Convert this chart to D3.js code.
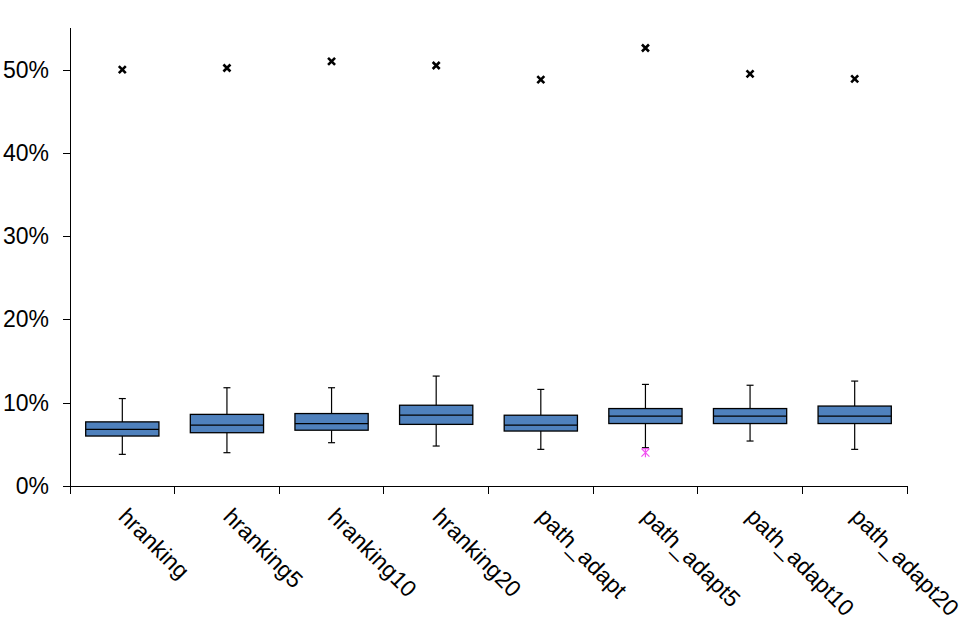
<!DOCTYPE html>
<meta charset="utf-8">
<style>
    body { margin: 0; background: #fff; }
    text { font-family: "Liberation Sans", Arial, sans-serif; font-size: 23px; fill: #000; }
    .axis path, .axis line { stroke: #000; stroke-width: 1px; shape-rendering: crispEdges; }
    .box { fill: #4f81bd; stroke: #000; stroke-width: 1.3px; }
    .whisker { stroke: #000; stroke-width: 1.2px; }
    .maxmark { stroke: #000; stroke-width: 2.6px; fill: none; }
    .outlier { stroke: #f050f0; stroke-width: 1.2px; fill: none; }
</style>
<body>
<script src="https://cdn.jsdelivr.net/npm/d3@7"></script>
<script>
    var categories = ["hranking", "hranking5", "hranking10", "hranking20",
        "path_adapt", "path_adapt5", "path_adapt10", "path_adapt20"];
    var whiskerLow  = [0.038, 0.040, 0.052, 0.048, 0.044, 0.046, 0.054, 0.044];
    var q1          = [0.060, 0.064, 0.067, 0.074, 0.066, 0.075, 0.075, 0.075];
    var median      = [0.068, 0.073, 0.075, 0.085, 0.073, 0.084, 0.084, 0.084];
    var q3          = [0.077, 0.086, 0.087, 0.097, 0.085, 0.093, 0.093, 0.096];
    var whiskerHigh = [0.105, 0.118, 0.118, 0.132, 0.116, 0.122, 0.121, 0.126];
    var maxVal      = [0.500, 0.502, 0.510, 0.505, 0.488, 0.526, 0.495, 0.489];
    var outlierCat  = ["path_adapt5"];
    var outlierVal  = [0.040];
    var yTicks      = [0, 0.1, 0.2, 0.3, 0.4, 0.5];

    var rows = categories.map(function(c, i) {
        return {cat: c, lo: whiskerLow[i], q1: q1[i], med: median[i], q3: q3[i], hi: whiskerHigh[i], max: maxVal[i]};
    });

    var svg = d3.select("body").append("svg").attr("width", 977).attr("height", 632);

    var x = d3.scaleBand().domain(categories).range([70, 907]).padding(0);
    var y = d3.scaleLinear().domain([0, 0.55]).range([486, 28]);

    // y axis
    var yAxis = svg.append("g").attr("class", "axis").attr("transform", "translate(70,0)")
        .call(d3.axisLeft(y).tickValues(yTicks).tickFormat(d3.format(".0%")).tickSize(7).tickSizeOuter(0).tickPadding(14));
    yAxis.select(".domain").attr("d", "M0," + y(0) + "V" + y(0.55));
    yAxis.selectAll("text").style("font-size", "23px").attr("fill", "#000");

    // x axis, ticks at band edges
    var xAxis = svg.append("g").attr("class", "axis").attr("transform", "translate(0," + y(0) + ")");
    xAxis.append("path").attr("class", "domain").attr("d", "M70,0H907");
    var edges = categories.map(function(c) { return x(c); }).concat([x.range()[1]]);
    xAxis.selectAll(".edge").data(edges).enter().append("line")
        .attr("x1", d => d).attr("x2", d => d).attr("y1", 0).attr("y2", 8);
    xAxis.selectAll(".lbl").data(categories).enter().append("text")
        .attr("transform", d => "translate(" + (x(d) + x.bandwidth() / 2 - 5) + ",32) rotate(45)")
        .attr("text-anchor", "start")
        .text(d => d);

    var bw = x.bandwidth() * 0.7;
    var cx = d => x(d.cat) + x.bandwidth() / 2;

    var g = svg.selectAll(".bp").data(rows).enter().append("g").attr("class", "bp");

    // whiskers
    g.append("line").attr("class", "whisker")
        .attr("x1", cx).attr("x2", cx).attr("y1", d => y(d.hi)).attr("y2", d => y(d.q3));
    g.append("line").attr("class", "whisker")
        .attr("x1", cx).attr("x2", cx).attr("y1", d => y(d.q1)).attr("y2", d => y(d.lo));
    g.append("line").attr("class", "whisker")
        .attr("x1", d => cx(d) - 3.5).attr("x2", d => cx(d) + 3.5).attr("y1", d => y(d.hi)).attr("y2", d => y(d.hi));
    g.append("line").attr("class", "whisker")
        .attr("x1", d => cx(d) - 3.5).attr("x2", d => cx(d) + 3.5).attr("y1", d => y(d.lo)).attr("y2", d => y(d.lo));

    // boxes
    g.append("rect").attr("class", "box")
        .attr("x", d => cx(d) - bw / 2).attr("width", bw)
        .attr("y", d => y(d.q3)).attr("height", d => y(d.q1) - y(d.q3));
    g.append("line").attr("class", "whisker").style("stroke-width", "1.3px")
        .attr("x1", d => cx(d) - bw / 2).attr("x2", d => cx(d) + bw / 2)
        .attr("y1", d => y(d.med)).attr("y2", d => y(d.med));

    // max markers
    g.append("path").attr("class", "maxmark")
        .attr("transform", d => "translate(" + cx(d) + "," + y(d.max) + ")")
        .attr("d", "M-3.5,-3.5L3.5,3.5M-3.5,3.5L3.5,-3.5");

    // outliers
    outlierCat.forEach(function(c, i) {
        svg.append("path").attr("class", "outlier")
            .attr("transform", "translate(" + (x(c) + x.bandwidth() / 2) + "," + y(outlierVal[i]) + ")")
            .attr("d", "M-4,-4L4,4M-4,4L4,-4M0,-4.5V4.5M-3,-4H3");
    });
</script>
</body>
